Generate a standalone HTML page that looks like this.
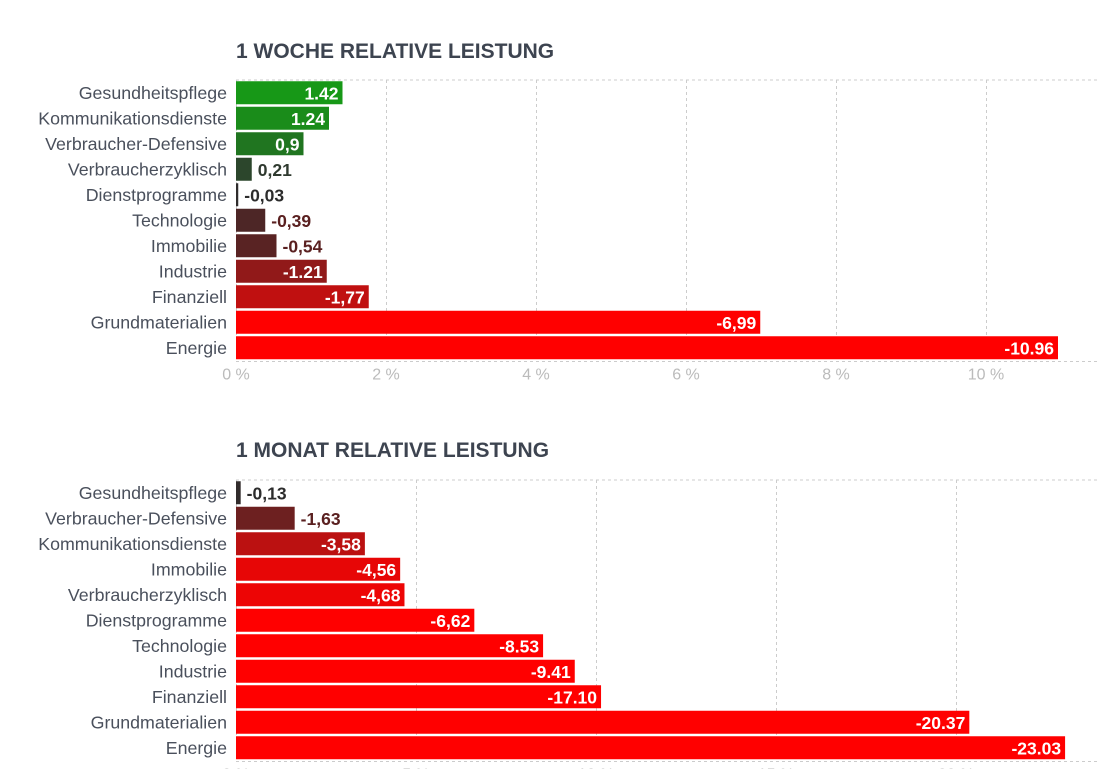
<!DOCTYPE html>
<html><head><meta charset="utf-8"><style>
body{margin:0;background:#fff;width:1102px;height:769px;overflow:hidden;font-family:"Liberation Sans",Arial,sans-serif}
svg{display:block}
</style></head><body>
<svg id="svg" width="1102" height="769"></svg>
<script>
const weekCats=["Gesundheitspflege","Kommunikationsdienste","Verbraucher-Defensive","Verbraucherzyklisch","Dienstprogramme","Technologie","Immobilie","Industrie","Finanziell","Grundmaterialien","Energie"];
const weekVals=[1.42,1.24,0.9,0.21,-0.03,-0.39,-0.54,-1.21,-1.77,-6.99,-10.96];
const weekLabels=["1.42","1.24","0,9","0,21","-0,03","-0,39","-0,54","-1.21","-1,77","-6,99","-10.96"];
const weekTicks=[0,2,4,6,8,10];
const monthCats=["Gesundheitspflege","Verbraucher-Defensive","Kommunikationsdienste","Immobilie","Verbraucherzyklisch","Dienstprogramme","Technologie","Industrie","Finanziell","Grundmaterialien","Energie"];
const monthVals=[-0.13,-1.63,-3.58,-4.56,-4.68,-6.62,-8.53,-9.41,-10.14,-20.37,-23.03];
const monthLabels=["-0,13","-1,63","-3,58","-4,56","-4,68","-6,62","-8.53","-9.41","-17.10","-20.37","-23.03"];
const monthTicks=[0,5,10,15,20];

const NS="http://www.w3.org/2000/svg";
const svg=document.getElementById('svg');
function mk(tag,attrs,parent){const e=document.createElementNS(NS,tag);for(const k in attrs)e.setAttribute(k,attrs[k]);(parent||svg).appendChild(e);return e;}
function mix(a,b,t){t=Math.max(0,Math.min(1,t));return 'rgb('+a.map((v,i)=>Math.round(v+(b[i]-v)*t)).join(',')+')';}
function colorFor(v,max){const t=Math.abs(v)/(max*0.2);
  if(v>=0) return mix([48,56,48],[22,155,22],t*1.5);
  if(t<0.85) return mix([44,44,44],[200,14,14],t/0.85);
  return mix([200,14,14],[255,0,0],(t-0.85)/0.25);}
function drawChart(title,titleY,top,pxPerUnit,cats,vals,labels,ticks,prefix){
  const left=236,right=1100,band=25.5,bh=23;
  const x=v=>left+v*pxPerUnit;
  const y=i=>top+i*band;
  const bottom=top+cats.length*band;
  const max=Math.max(...vals.map(Math.abs));
  const t=mk('text',{x:236,y:titleY,'font-size':21,'font-weight':'bold',fill:'#3d4450'});t.textContent=title;
  
  
  const grid=mk('g',{});
  
  
  mk('line',{x1:left,x2:right,y1:top,y2:top,stroke:'#ccc','stroke-dasharray':'3,3'},grid);
  mk('line',{x1:left,x2:right,y1:bottom+1,y2:bottom+1,stroke:'#ccc','stroke-dasharray':'3,3'},grid);
  ticks.forEach(tv=>{
    mk('line',{x1:x(tv)+.5,x2:x(tv)+.5,y1:top,y2:bottom+1,stroke:'#ccc','stroke-dasharray':'3,3'},grid);
    const tl=mk('text',{x:x(tv),y:bottom+19,'font-size':16,fill:'#bbb','text-anchor':'middle'});
    tl.textContent=tv+' %';
    
    
  });
  cats.forEach((c,i)=>{
    const cy=y(i)+band/2;
    const cl=mk('text',{x:227,y:cy+6,'font-size':17.8,fill:'#4a505c','text-anchor':'end'});
    cl.textContent=c;
    
    
    const w=Math.max(2,Math.abs(vals[i])*pxPerUnit);
    const col=colorFor(vals[i],max);
    const r=mk('rect',{x:left,y:cy-bh/2,width:w,height:bh,fill:col});
    
    
    let vl;
    if(w>62){vl=mk('text',{x:left+w-4,y:cy+6.5,'font-size':17.5,'font-weight':'bold',fill:'#fff','text-anchor':'end'});}
    else{vl=mk('text',{x:left+w+6,y:cy+6.5,'font-size':17.5,'font-weight':'bold',fill:vals[i]>=0?'#2f3a2f':(Math.abs(vals[i])<0.2?'#2c2c2c':'#5a2020')});}
    vl.textContent=labels[i];
    
    
  });
}
drawChart('1 WOCHE RELATIVE LEISTUNG',58,80,75,weekCats,weekVals,weekLabels,weekTicks,'week');
drawChart('1 MONAT RELATIVE LEISTUNG',457,480,36,monthCats,monthVals,monthLabels,monthTicks,'month');
</script>
</body></html>
